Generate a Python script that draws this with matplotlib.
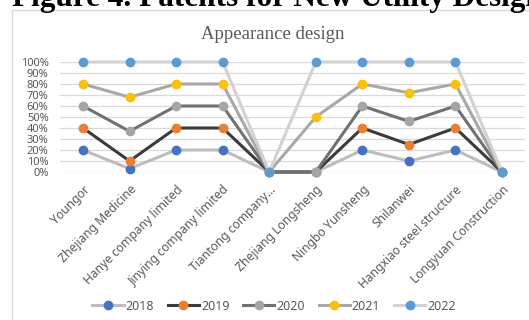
import matplotlib
matplotlib.use("Agg")
import matplotlib.pyplot as plt
from matplotlib.patches import Rectangle
from matplotlib.lines import Line2D

categories = ["Youngor", "Zhejiang Medicine", "Hanye company limited",
              "Jinying company limited", "Tiantong company…", "Zhejiang Longsheng",
              "Ningbo Yunsheng", "Shilanwei", "Hangxiao steel structure",
              "Longyuan Construction"]
series_names = ["2018", "2019", "2020", "2021", "2022"]
v2018 = [0.20, 0.03, 0.20, 0.20, 0.0, 0.0, 0.20, 0.10, 0.20, 0.0]
v2019 = [0.40, 0.10, 0.40, 0.40, 0.0, 0.0, 0.40, 0.25, 0.40, 0.0]
v2020 = [0.60, 0.37, 0.60, 0.60, 0.0, 0.0, 0.60, 0.46, 0.60, 0.0]
v2021 = [0.80, 0.68, 0.80, 0.80, 0.0, 0.50, 0.80, 0.72, 0.80, 0.0]
v2022 = [1.00, 1.00, 1.00, 1.00, 0.0, 1.00, 1.00, 1.00, 1.00, 0.0]
yticks = [i / 10 for i in range(11)]
ytick_labels = [f"{i*10}%" for i in range(11)]

values = [v2018, v2019, v2020, v2021, v2022]
line_colors = ["#bdbdbd", "#3b3b3b", "#717171", "#a8a8a8", "#d2d2d2"]
marker_colors = ["#4472c4", "#ed7d31", "#a5a5a5", "#ffc000", "#5b9bd5"]

W, H = 529, 320
fig = plt.figure(figsize=(W / 100, H / 100), dpi=100)

def fx(px):
    return px / W

def fy(py):
    return 1 - py / H

# chart border
fig.patches.append(Rectangle((fx(12), fy(340)), fx(540), 330 / H,
                             transform=fig.transFigure, fill=False,
                             edgecolor="#d9d9d9", linewidth=1.0))

# cut-off document title
fig.text(fx(277), fy(6), "Figure 4. Patents for New Utility Design",
         ha="center", va="baseline", fontsize=22.5, fontweight="bold",
         family="Liberation Serif", color="black")

fig.text(fx(273), fy(39), "Appearance design", ha="center", va="baseline",
         fontsize=13.5, family="Liberation Serif", color="#595959")

ax = fig.add_axes([fx(59.7), fy(172), (525.3 - 59.7) / W, 110 / H])
x = list(range(len(categories)))
for name, vals, lc, mc in zip(series_names, values, line_colors, marker_colors):
    ax.plot(x, vals, color=lc, linewidth=2.2, marker="o", markersize=6,
            markerfacecolor=mc, markeredgecolor=mc, clip_on=False,
            solid_joinstyle="round")

ax.set_xlim(-0.5, len(categories) - 0.5)
ax.set_ylim(0, 1)
ax.set_yticks(yticks)
ax.set_yticklabels(ytick_labels, fontsize=8, color="#595959", family="Noto Sans")
ax.set_xticks(x)
ax.set_xticklabels(categories, rotation=45, ha="right", rotation_mode="anchor",
                   fontsize=8.7, color="#595959", family="Noto Sans")
ax.tick_params(axis="both", length=0)
ax.tick_params(axis="y", pad=8)
ax.tick_params(axis="x", pad=8)
ax.grid(axis="y", color="#d9d9d9", linewidth=0.9)
ax.set_axisbelow(True)
for s in ax.spines.values():
    s.set_visible(False)
ax.set_facecolor("none")

handles = [Line2D([0], [0], color=lc, linewidth=2.2, marker="o", markersize=6,
                  markerfacecolor=mc, markeredgecolor=mc)
           for lc, mc in zip(line_colors, marker_colors)]
leg = fig.legend(handles, series_names, loc="center", bbox_to_anchor=(fx(274), fy(306)),
                 ncol=5, frameon=False, handlelength=2.5,
                 handletextpad=0.15, columnspacing=1.1,
                 prop={"family": "Noto Sans", "size": 9})
for t in leg.get_texts():
    t.set_color("#595959")

fig.savefig("out.png", dpi=100)
